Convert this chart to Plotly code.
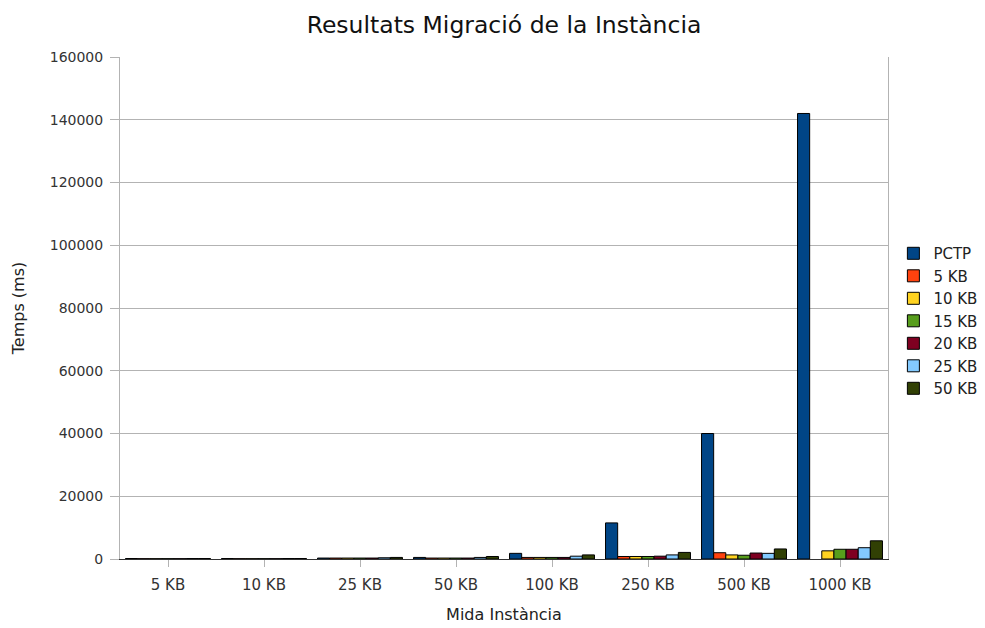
import plotly.graph_objects as go

# Mida de la instància (eix X)
categories = ["5 KB", "10 KB", "25 KB", "50 KB", "100 KB", "250 KB", "500 KB", "1000 KB"]

# Temps (ms) per sèrie, llegits del gràfic
pctp = [150, 150, 300, 500, 1800, 11500, 40000, 142000]
kb5 = [100, 100, 300, 300, 500, 800, 2000, None]
kb10 = [100, 100, 300, 300, 500, 800, 1300, 2600]
kb15 = [100, 100, 300, 300, 500, 800, 1200, 3100]
kb20 = [100, 100, 300, 300, 500, 900, 1900, 3100]
kb25 = [150, 150, 400, 500, 900, 1300, 1800, 3600]
kb50 = [150, 150, 500, 800, 1300, 2100, 3200, 5800]

series_names = ["PCTP", "5 KB", "10 KB", "15 KB", "20 KB", "25 KB", "50 KB"]
series_values = [pctp, kb5, kb10, kb15, kb20, kb25, kb50]
colors = ["#004586", "#ff420e", "#ffd320", "#579d1c", "#7e0021", "#83caff", "#314004"]

fig = go.Figure()
for name, vals, col in zip(series_names, series_values, colors):
    fig.add_trace(go.Bar(
        x=categories, y=vals, name=name,
        marker=dict(color=col, line=dict(color="#000000", width=1)),
    ))

# la pàgina afegeix 8 px de marge al body: es compensa aquí
fig.update_layout(
    width=985, height=628,
    margin=dict(l=112, r=105, t=49, b=77, autoexpand=False),
    paper_bgcolor="white", plot_bgcolor="white",
    font=dict(family="DejaVu Sans, sans-serif", size=14, color="#333333"),
    title=dict(text="Resultats Migració de la Instància", x=0.5, xref="paper",
               xanchor="center", y=1 - 17 / 628, yref="container", yanchor="middle",
               font=dict(size=23.5, color="#111111")),
    barmode="group", bargap=0.115, bargroupgap=0,
    legend=dict(x=1.007, y=0.474, xanchor="left", yanchor="middle",
                font=dict(size=15, color="#222222"), tracegroupgap=0,
                itemwidth=30),
    showlegend=True,
)

fig.update_yaxes(
    title=dict(text="Temps (ms)", font=dict(size=16, color="#222222"), standoff=21),
    range=[0, 160000], dtick=20000, tickformat="d",
    showgrid=True, gridcolor="#b3b3b3", gridwidth=1,
    showline=True, linecolor="#b3b3b3", mirror=True,
    ticks="outside", ticklen=9, tickcolor="#b3b3b3",
    ticklabelstandoff=4,
    zeroline=False, automargin=False,
)
fig.update_xaxes(
    title=dict(text="Mida Instància", font=dict(size=16, color="#222222"), standoff=15),
    tickfont=dict(size=15),
    showline=True, linecolor="#333333", mirror=False,
    ticks="outside", tickson="labels", ticklen=7, tickcolor="#b3b3b3",
    ticklabelstandoff=5,
    showgrid=False, automargin=False,
)

fig.write_html("out.html")
